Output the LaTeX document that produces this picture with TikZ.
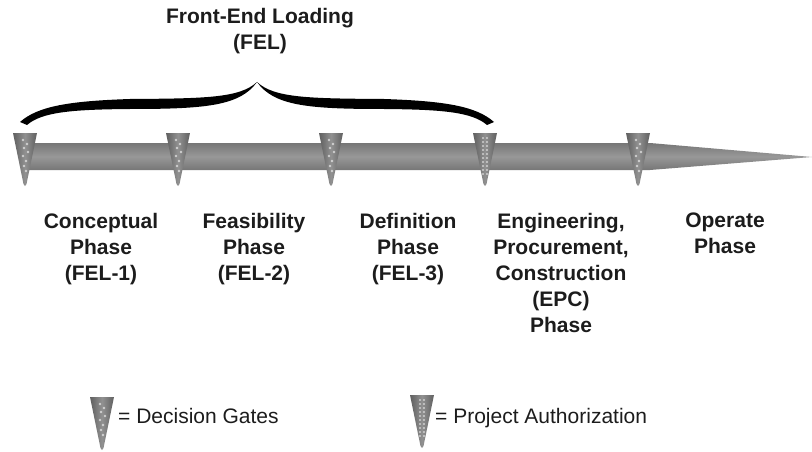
\documentclass[tikz,border=0pt]{standalone}
\usepackage{fontspec}
\setmainfont{Liberation Sans}
\usetikzlibrary{positioning}
\definecolor{barEdge}{RGB}{118,118,118}
\definecolor{barMid}{RGB}{152,152,152}
\definecolor{gateDark}{RGB}{96,96,96}
\definecolor{gateMid}{RGB}{145,145,145}
\definecolor{labelInk}{RGB}{28,28,28}
\newcommand{\BraceHalf}{%
  \fill[black] (20,122) .. controls (38,106) and (70,101) .. (130,99)
     .. controls (205,98.5) and (240,98) .. (257,82)
     .. controls (240,106) and (205,109) .. (130,109)
     .. controls (72,109.5) and (42,112) .. (27,125) -- cycle;}
\tikzset{
  PhaseLabel/.style = {align=center, inner sep=0pt, anchor=north, text=labelInk,
                       font=\fontsize{21}{26}\selectfont\bfseries},
  KeyText/.style    = {inner sep=0pt, anchor=base west, text=labelInk,
                       font=\fontsize{21}{26}\selectfont},
  BarBody/.style    = {top color=barEdge, bottom color=barEdge, middle color=barMid},
  GateBody/.style   = {left color=gateDark, right color=gateDark, middle color=gateMid},
  GateDot/.style    = {fill=white, opacity=0.6},
  pics/DecisionGate/.style = {code={
      \path[GateBody] (-12,0) -- (12,0) -- (1.5,51) -- (0,53) -- (-1.5,51) -- cycle;
      \foreach \dx/\dy in {-2/7, 2/11, -1/15, 3/19, -2/23, 1/28, -1/33, 1/38}
        \fill[GateDot] (\dx,\dy) circle (1.3);
  }},
  pics/AuthGate/.style = {code={
      \path[GateBody] (-12,0) -- (12,0) -- (1.5,51) -- (0,53) -- (-1.5,51) -- cycle;
      \foreach \dy in {5,9,...,41} {
        \fill[GateDot] (-2,\dy) circle (1.1);
        \fill[GateDot] (2,\dy) circle (1.1);
      }
  }},
}

\begin{document}
\begin{tikzpicture}[x=1pt, y=-1pt]
  \useasboundingbox (0,0) rectangle (812,452);
  % FEL brace and title
  \node[PhaseLabel] (felTitle) at (260,8) {Front-End Loading\\(FEL)};
  \BraceHalf
  \begin{scope}[shift={(514,0)}, xscale=-1]
    \BraceHalf
  \end{scope}
  % project timeline
  \path[BarBody] (25,143) -- (650,143) -- (812,157) -- (650,170) -- (25,170) -- cycle;
  \foreach \gx in {25,178,331,638}
    \pic at (\gx,133) {DecisionGate};
  \pic at (485,133) {AuthGate};
  % phases
  \node[PhaseLabel] (conceptual)  at (101,213) {Conceptual\\Phase\\(FEL-1)};
  \node[PhaseLabel] (feasibility) at (254,213) {Feasibility\\Phase\\(FEL-2)};
  \node[PhaseLabel] (definition)  at (408,213) {Definition\\Phase\\(FEL-3)};
  \node[PhaseLabel] (epc)         at (561,213) {Engineering,\\Procurement,\\Construction\\(EPC)\\Phase};
  \node[PhaseLabel] (operate)     at (725,213) {Operate\\Phase};
  % legend
  \pic at (102,397) {DecisionGate};
  \node[KeyText] (gateKey) at (118,423) {= Decision Gates};
  \pic at (422,395) {AuthGate};
  \node[KeyText] (authKey) at (435,423) {= Project Authorization};
\end{tikzpicture}
\end{document}
